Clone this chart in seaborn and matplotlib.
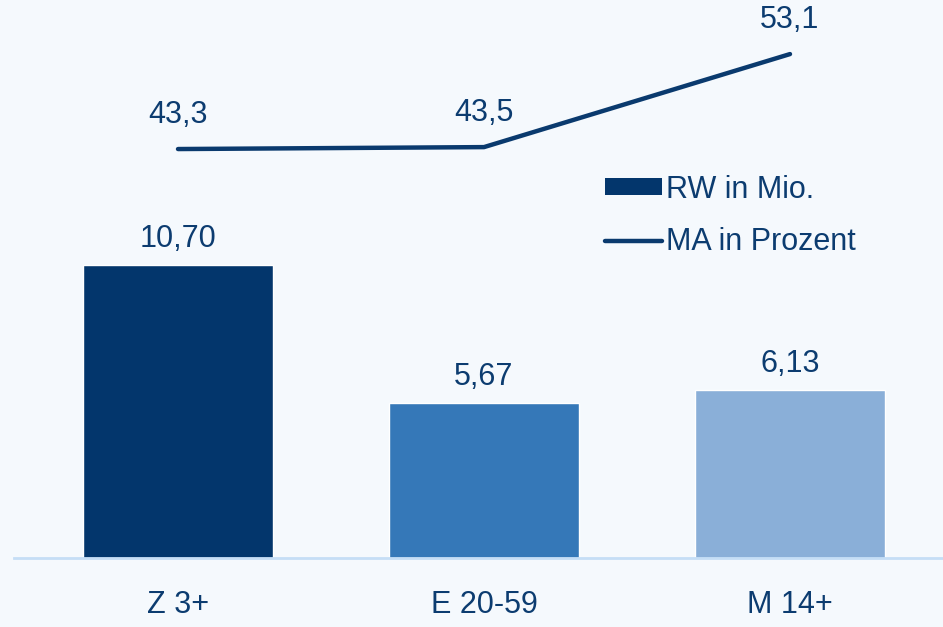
import matplotlib
matplotlib.use("Agg")
import matplotlib.pyplot as plt
import seaborn as sns
import pandas as pd
from matplotlib.patches import Patch
from matplotlib.lines import Line2D

categories = ["Z 3+", "E 20-59", "M 14+"]
rw_values = [10.70, 5.67, 6.13]
ma_values = [43.3, 43.5, 53.1]
rw_labels = ["10,70", "5,67", "6,13"]
ma_labels = ["43,3", "43,5", "53,1"]
bar_colors = ["#03366c", "#3578b8", "#8aafd8"]

line_color = "#0a3a6e"
text_color = "#0c3c70"
bg = "#f5f9fd"

sns.set_style("white")
plt.rcParams["font.family"] = ["Liberation Sans", "DejaVu Sans"]

fig = plt.figure(figsize=(9.43, 6.27), dpi=100, facecolor=bg)
ax = fig.add_axes([14/943, 69/627, 929/943, 558/627])
ax.set_facecolor(bg)

df = pd.DataFrame({"cat": categories, "rw": rw_values})
sns.barplot(data=df, x="cat", y="rw", hue="cat", palette=bar_colors,
            width=0.624, legend=False, ax=ax, saturation=1)
ax.set_xlim(-0.536, 2.5)
ax.set_ylim(0, 20.37)
for s in ["top", "right", "left"]:
    ax.spines[s].set_visible(False)
ax.spines["bottom"].set_color("#c5def6")
ax.spines["bottom"].set_linewidth(2)
ax.set_yticks([])
ax.set_xlabel("")
ax.set_ylabel("")
ax.tick_params(axis="x", length=0, pad=23, labelsize=22, labelcolor=text_color)

for i, (v, lab) in enumerate(zip(rw_values, rw_labels)):
    ax.annotate(lab, (i, v), xytext=(0, 18.5), textcoords="offset points",
                ha="center", va="center", fontsize=22, color=text_color)

ax2 = ax.twinx()
ax2.set_facecolor("none")
dfl = pd.DataFrame({"cat": categories, "ma": ma_values})
sns.lineplot(data=dfl, x="cat", y="ma", ax=ax2, color=line_color, linewidth=3.2, sort=False)
ax2.set_ylim(1.1, 58.68)
ax2.set_xlim(-0.536, 2.5)
ax2.set_yticks([])
ax2.set_ylabel("")
for s in ax2.spines.values():
    s.set_visible(False)

for i, (v, lab) in enumerate(zip(ma_values, ma_labels)):
    ax2.annotate(lab, (i, v), xytext=(0, 24.5), textcoords="offset points",
                 ha="center", va="center", fontsize=22, color=text_color)

handles = [Patch(facecolor="#03366c", edgecolor="none"),
           Line2D([0], [0], color=line_color, linewidth=3.2)]
leg = ax2.legend(handles, ["RW in Mio.", "MA in Prozent"],
                 loc="center left", bbox_to_anchor=(605/943, 1 - 216/627),
                 bbox_transform=fig.transFigure,
                 frameon=False, fontsize=22, handlelength=1.85, handleheight=0.5,
                 handletextpad=0.15, labelspacing=0.75, borderaxespad=0, borderpad=0)
for t in leg.get_texts():
    t.set_color(text_color)

fig.savefig("out.png", dpi=100, facecolor=bg)
